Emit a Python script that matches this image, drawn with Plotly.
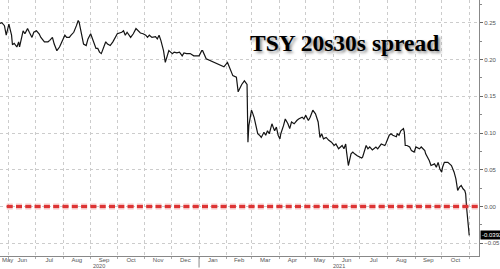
import plotly.graph_objects as go

dates = [
"2020-05-22","2020-05-24","2020-05-27","2020-05-29","2020-06-01","2020-06-04","2020-06-05","2020-06-07","2020-06-10","2020-06-12",
"2020-06-13","2020-06-17","2020-06-19","2020-06-22","2020-06-24","2020-06-27","2020-06-29","2020-07-02","2020-07-05","2020-07-07",
"2020-07-11","2020-07-15","2020-07-17","2020-07-20","2020-07-22","2020-07-25","2020-07-28","2020-07-31","2020-08-03","2020-08-05",
"2020-08-08","2020-08-10","2020-08-13","2020-08-16","2020-08-18","2020-08-19","2020-08-22","2020-08-24","2020-08-27","2020-08-29",
"2020-09-01","2020-09-04","2020-09-07","2020-09-09","2020-09-11","2020-09-13","2020-09-16","2020-09-18","2020-09-20","2020-09-23",
"2020-09-26","2020-09-28","2020-10-01","2020-10-06","2020-10-08","2020-10-10","2020-10-12","2020-10-16","2020-10-19","2020-10-22",
"2020-10-24","2020-10-27","2020-10-30","2020-11-02","2020-11-04","2020-11-06","2020-11-09","2020-11-13","2020-11-15","2020-11-17",
"2020-11-19","2020-11-22","2020-11-24","2020-11-26","2020-11-28","2020-11-30","2020-12-02","2020-12-04","2020-12-07","2020-12-10",
"2020-12-13","2020-12-15","2020-12-18","2020-12-22","2020-12-26","2020-12-30","2021-01-01","2021-01-04","2021-01-05","2021-01-09",
"2021-01-13","2021-01-18","2021-01-22","2021-01-26","2021-01-29","2021-02-02","2021-02-04","2021-02-08","2021-02-12","2021-02-14",
"2021-02-18","2021-02-20","2021-02-21","2021-02-24","2021-02-25","2021-02-26","2021-03-01","2021-03-02","2021-03-04","2021-03-06",
"2021-03-08","2021-03-10","2021-03-12","2021-03-15","2021-03-17","2021-03-19","2021-03-21","2021-03-23","2021-03-24","2021-03-26",
"2021-03-27","2021-03-29","2021-03-31","2021-04-02","2021-04-03","2021-04-06","2021-04-08","2021-04-11","2021-04-13","2021-04-15",
"2021-04-18","2021-04-21","2021-04-23","2021-04-27","2021-04-29","2021-05-01","2021-05-04","2021-05-06","2021-05-09","2021-05-12",
"2021-05-15","2021-05-17","2021-05-19","2021-05-21","2021-05-24","2021-05-27","2021-05-30","2021-06-02","2021-06-04","2021-06-07",
"2021-06-09","2021-06-11","2021-06-13","2021-06-15","2021-06-16","2021-06-18","2021-06-21","2021-06-23","2021-06-25","2021-06-28",
"2021-07-03","2021-07-04","2021-07-08","2021-07-10","2021-07-12","2021-07-15","2021-07-19","2021-07-21","2021-07-25","2021-07-29",
"2021-07-30","2021-08-01","2021-08-03","2021-08-05","2021-08-07","2021-08-11","2021-08-12","2021-08-14","2021-08-16","2021-08-19",
"2021-08-20","2021-08-21","2021-08-23","2021-08-26","2021-08-28","2021-08-31","2021-09-02","2021-09-06","2021-09-08","2021-09-12",
"2021-09-13","2021-09-17","2021-09-19","2021-09-23","2021-09-25","2021-09-27","2021-09-29","2021-10-01","2021-10-02","2021-10-04",
"2021-10-08","2021-10-12","2021-10-14","2021-10-15","2021-10-17","2021-10-19","2021-10-21","2021-10-23","2021-10-25","2021-10-27",
"2021-10-28","2021-10-29","2021-11-01",
]

spread = [
0.249,0.250,0.246,0.233,0.248,0.233,0.220,0.222,0.217,0.224,
0.217,0.239,0.235,0.242,0.237,0.230,0.237,0.239,0.235,0.230,
0.224,0.224,0.226,0.230,0.221,0.212,0.217,0.226,0.233,0.230,
0.230,0.233,0.237,0.246,0.253,0.251,0.235,0.221,0.219,0.228,
0.235,0.226,0.215,0.215,0.210,0.208,0.217,0.224,0.221,0.219,
0.224,0.228,0.235,0.237,0.239,0.233,0.237,0.230,0.235,0.242,
0.239,0.236,0.235,0.233,0.230,0.233,0.230,0.231,0.228,0.233,
0.226,0.212,0.196,0.203,0.212,0.210,0.208,0.210,0.209,0.210,
0.205,0.209,0.208,0.208,0.205,0.205,0.205,0.212,0.212,0.201,
0.199,0.196,0.194,0.192,0.190,0.196,0.190,0.178,0.176,0.156,
0.166,0.169,0.171,0.166,0.0875,0.110,0.131,0.128,0.121,0.110,
0.099,0.097,0.094,0.101,0.097,0.103,0.099,0.108,0.1125,0.106,
0.103,0.108,0.097,0.092,0.099,0.110,0.119,0.1125,0.106,0.115,
0.1125,0.117,0.119,0.1215,0.119,0.124,0.117,0.1215,0.131,0.126,
0.115,0.094,0.099,0.092,0.094,0.090,0.0875,0.083,0.085,0.0785,
0.081,0.083,0.0785,0.085,0.074,0.0558,0.0717,0.074,0.0717,0.069,
0.066,0.067,0.083,0.0785,0.081,0.077,0.081,0.0785,0.085,0.083,
0.085,0.090,0.097,0.099,0.097,0.095,0.099,0.097,0.103,0.106,
0.101,0.083,0.083,0.081,0.076,0.074,0.081,0.0785,0.081,0.076,
0.0717,0.0626,0.0558,0.058,0.0535,0.060,0.051,0.0467,0.0535,0.060,
0.060,0.0558,0.051,0.0467,0.0377,0.0218,0.0263,0.0286,0.0241,0.0218,
0.0173,-0.001,-0.0392,
]

y_ticks = [-0.05, 0.0, 0.05, 0.10, 0.15, 0.20, 0.25]
year_labels = ["2020", "2021"]
year_label_dates = ["2020-09-10", "2021-06-07"]
title_text = "TSY 20s30s spread"
last_label = "-0.0392"

x_range = ["2020-05-22", "2021-11-12"]
y_range = [-0.0673, 0.2809]

fig = go.Figure()
fig.add_trace(go.Scatter(x=dates, y=spread, mode="lines",
                         line=dict(color="#141414", width=1.2), showlegend=False))

grid = "#cccccc"
tickfont = dict(family="Liberation Sans", size=6, color="#555555")

fig.update_layout(
    width=500, height=269,
    margin=dict(l=0, r=21, t=0, b=13),
    paper_bgcolor="white", plot_bgcolor="white",
    xaxis=dict(range=x_range, type="date", dtick="M1", tick0="2020-06-01",
               tickformat="%b", ticklabelmode="period",
               showgrid=True, gridcolor=grid, griddash="dot", gridwidth=1,
               showline=True, linecolor="#888888", linewidth=1,
               ticks="outside", ticklen=2, tickcolor="#aaaaaa",
               ticklabelstandoff=-4,
               tickfont=tickfont, zeroline=False),
    yaxis=dict(range=y_range, side="right", tickvals=y_ticks,
               tickformat=".2f",
               showgrid=True, gridcolor=grid, griddash="dot", gridwidth=1,
               showline=True, linecolor="#888888", linewidth=1,
               ticks="outside", ticklen=3, tickcolor="#666666",
               minor=dict(dtick=0.025, ticks="outside", ticklen=2, tickcolor="#888888", showgrid=False),
               tickfont=tickfont, zeroline=False),
)

# red dashed zero line with glow
fig.add_shape(type="line", xref="paper", yref="y", x0=0.014, x1=1, y0=0, y1=0,
              line=dict(color="rgba(230,80,80,0.35)", width=6, dash="6px,3.3px"), layer="above")
fig.add_shape(type="line", xref="paper", yref="y", x0=0.014, x1=1, y0=0, y1=0,
              line=dict(color="#dd3434", width=3, dash="6px,3.3px"), layer="above")

# year separator
fig.add_shape(type="line", xref="x", yref="paper", x0="2021-01-01", x1="2021-01-01",
              y0=0, y1=-0.045, line=dict(color="#888888", width=1))

# month label for partial May at left edge
fig.add_annotation(x=0, xref="paper", y=0, yref="paper", yshift=-3.5,
                   text="May", showarrow=False, xanchor="left", yanchor="middle",
                   font=tickfont)

for lab, d in zip(year_labels, year_label_dates):
    fig.add_annotation(x=d, xref="x", y=0, yref="paper", yshift=-9.5,
                       text=lab, showarrow=False, xanchor="center", yanchor="middle",
                       font=dict(family="Liberation Sans", size=5.5, color="#555555"))

fig.add_annotation(x=0.518, xref="paper", y=0.832, yref="paper",
                   text="<b>" + title_text + "</b>", showarrow=False,
                   xanchor="left", yanchor="middle",
                   font=dict(family="Liberation Serif", size=23.5, color="black",
                             shadow="2px 2px 3px rgba(0,0,0,0.45)"))

fig.add_annotation(x=1, xref="paper", y=spread[-1], yref="y", xshift=1,
                   text=last_label, showarrow=False, xanchor="left", yanchor="middle",
                   bgcolor="black", borderpad=1,
                   font=dict(family="Liberation Sans", size=6, color="white"))

fig.write_html("out.html")
